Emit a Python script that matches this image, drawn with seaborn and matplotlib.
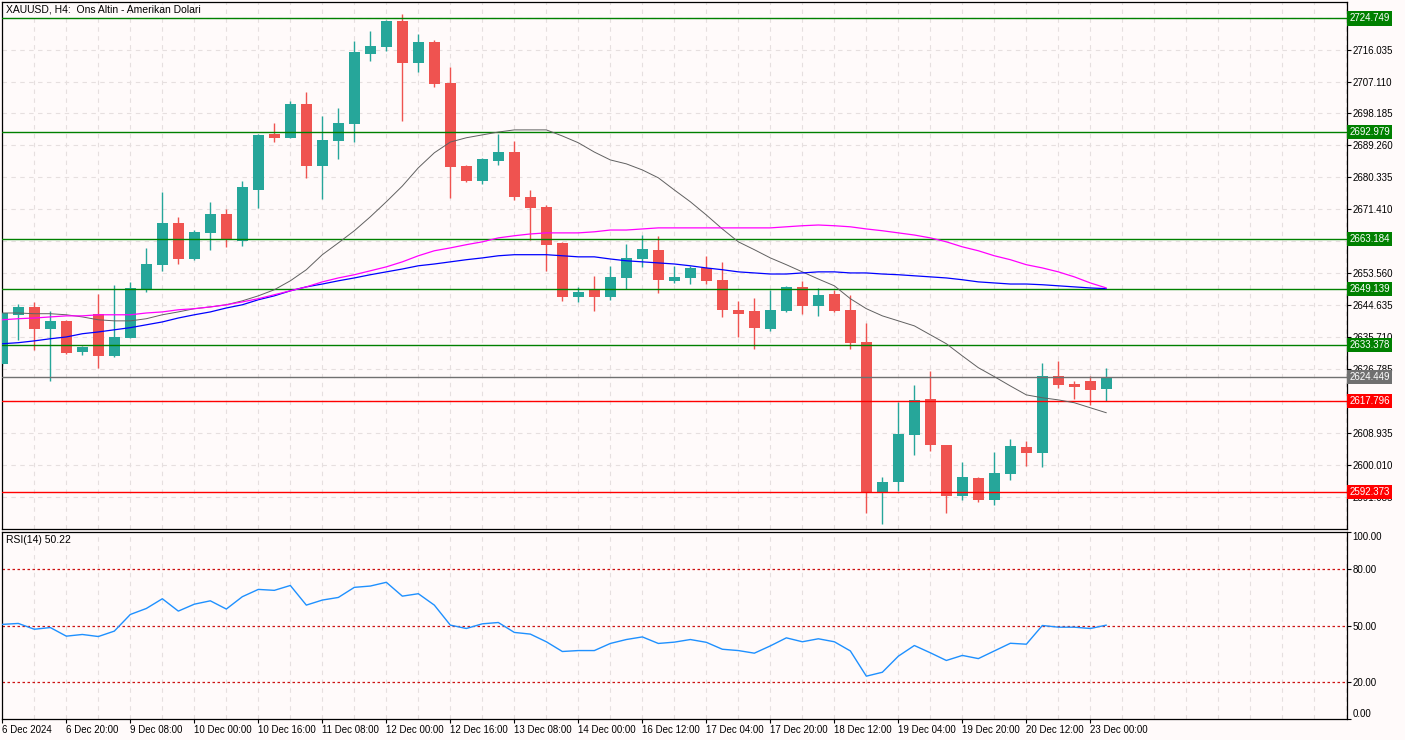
import matplotlib
matplotlib.use("Agg")
import numpy as np
import pandas as pd
import matplotlib.pyplot as plt
import matplotlib.transforms as mtransforms
import seaborn as sns

# XAUUSD H4 candles
opens = [2628.2, 2641.7, 2644.1, 2638.0, 2640.2, 2631.5, 2642.2, 2630.4, 2635.5, 2648.9,
         2655.9, 2667.6, 2657.5, 2664.8, 2670.1, 2662.6, 2676.8, 2692.5, 2691.4, 2700.9,
         2683.5, 2690.5, 2695.3, 2714.8, 2716.8, 2724.1, 2712.3, 2718.2, 2706.7, 2683.5,
         2679.3, 2684.9, 2687.4, 2674.9, 2672.1, 2662.0, 2646.9, 2648.9, 2646.9, 2652.2,
         2657.5, 2660.1, 2651.4, 2652.2, 2655.0, 2651.7, 2643.3, 2643.0, 2638.0, 2643.0,
         2649.7, 2644.4, 2647.8, 2643.3, 2634.3, 2592.4, 2595.2, 2608.3, 2618.4, 2605.6,
         2591.3, 2596.3, 2590.2, 2597.5, 2605.0, 2603.3, 2624.8, 2622.6, 2623.4, 2621.2]
closes = [2642.4, 2644.1, 2638.0, 2640.2, 2631.3, 2632.9, 2630.4, 2635.7, 2649.4, 2656.1,
          2667.6, 2657.5, 2665.1, 2670.1, 2662.8, 2677.7, 2692.2, 2691.4, 2700.9, 2683.5,
          2690.8, 2695.5, 2715.4, 2717.1, 2724.1, 2712.3, 2718.2, 2706.4, 2683.2, 2679.3,
          2685.5, 2687.4, 2674.9, 2671.8, 2661.5, 2646.9, 2648.3, 2646.9, 2652.5, 2657.8,
          2660.3, 2651.7, 2652.5, 2655.0, 2651.4, 2643.3, 2642.2, 2638.3, 2643.3, 2649.7,
          2644.4, 2647.5, 2643.0, 2634.1, 2592.4, 2595.2, 2608.6, 2618.1, 2605.6, 2591.3,
          2596.6, 2590.2, 2597.7, 2605.3, 2603.3, 2624.8, 2622.3, 2621.8, 2620.9, 2624.45]
highs = [2642.7, 2645.0, 2645.5, 2643.0, 2640.5, 2633.2, 2647.8, 2650.3, 2651.1, 2660.6,
         2676.3, 2669.3, 2665.6, 2673.5, 2671.5, 2679.3, 2692.5, 2695.5, 2701.7, 2704.2,
         2697.5, 2699.7, 2718.5, 2721.3, 2724.3, 2726.0, 2720.4, 2718.7, 2711.2, 2683.8,
         2685.8, 2692.5, 2690.5, 2676.8, 2672.6, 2662.3, 2649.7, 2652.8, 2655.6, 2661.7,
         2664.2, 2664.0, 2655.6, 2655.6, 2658.4, 2656.7, 2645.8, 2646.6, 2648.9, 2650.0,
         2651.4, 2649.4, 2648.9, 2647.5, 2639.6, 2596.6, 2617.6, 2622.3, 2626.2, 2605.6,
         2600.8, 2596.6, 2603.6, 2607.2, 2606.7, 2628.5, 2629.0, 2623.4, 2624.8, 2627.1]
lows = [2627.6, 2634.9, 2632.1, 2623.4, 2631.0, 2630.7, 2627.1, 2630.2, 2635.3, 2648.3,
        2654.2, 2656.1, 2657.3, 2660.1, 2660.9, 2661.2, 2671.8, 2690.2, 2691.2, 2680.2,
        2674.3, 2685.5, 2690.2, 2712.9, 2715.7, 2696.1, 2709.8, 2705.6, 2674.6, 2679.1,
        2678.5, 2683.8, 2674.0, 2662.8, 2654.2, 2645.8, 2645.5, 2643.0, 2646.1, 2649.2,
        2655.3, 2648.0, 2650.8, 2650.5, 2650.5, 2641.3, 2635.7, 2632.4, 2637.4, 2642.8,
        2642.2, 2641.6, 2642.7, 2632.4, 2586.5, 2583.5, 2592.7, 2602.8, 2603.9, 2586.5,
        2590.2, 2589.6, 2588.8, 2595.8, 2599.7, 2599.4, 2621.5, 2618.4, 2616.7, 2617.9]

# moving averages
ma_gray = [2642.4, 2642.4, 2642.2, 2642.2, 2641.9, 2641.3, 2640.5, 2640.2, 2640.2, 2640.8,
           2641.9, 2642.7, 2643.6, 2644.1, 2644.7, 2645.8, 2647.2, 2648.9, 2651.4, 2654.5,
           2658.7, 2662.0, 2665.4, 2669.3, 2673.5, 2677.9, 2683.0, 2687.2, 2690.2, 2691.4,
           2692.2, 2693.0, 2693.6, 2693.6, 2693.6, 2691.9, 2690.0, 2687.4, 2685.2, 2684.1,
           2682.4, 2680.2, 2676.8, 2673.5, 2669.8, 2665.9, 2662.3, 2660.1, 2657.8, 2655.9,
           2653.9, 2651.9, 2650.0, 2646.4, 2643.6, 2641.6, 2640.2, 2638.8, 2636.3, 2633.8,
           2630.4, 2627.1, 2624.6, 2622.0, 2619.5, 2618.7, 2618.1, 2617.3, 2615.9, 2614.5]
ma_blue = [2633.8, 2634.1, 2634.6, 2635.2, 2635.7, 2636.6, 2637.1, 2637.7, 2638.3, 2639.1,
           2639.9, 2641.0, 2641.9, 2642.7, 2643.8, 2644.7, 2646.1, 2647.2, 2648.6, 2649.7,
           2650.5, 2651.4, 2652.2, 2653.1, 2653.9, 2654.7, 2655.6, 2656.1, 2656.7, 2657.3,
           2657.8, 2658.4, 2658.7, 2658.7, 2658.7, 2658.4, 2658.1, 2658.1, 2657.5, 2657.0,
           2656.7, 2656.4, 2656.1, 2655.6, 2655.0, 2654.5, 2653.9, 2653.6, 2653.3, 2653.3,
           2653.6, 2653.9, 2653.9, 2653.6, 2653.6, 2653.3, 2653.1, 2652.8, 2652.5, 2652.2,
           2651.7, 2651.1, 2650.8, 2650.5, 2650.5, 2650.3, 2650.0, 2649.7, 2649.4, 2649.2]
ma_magenta = [2640.5, 2640.8, 2641.0, 2641.3, 2641.6, 2641.6, 2641.9, 2641.9, 2641.9, 2642.4,
              2642.7, 2643.3, 2643.6, 2644.1, 2644.7, 2645.5, 2646.4, 2647.5, 2648.6, 2649.7,
              2651.1, 2652.2, 2653.1, 2654.2, 2655.3, 2656.7, 2658.4, 2659.8, 2660.6, 2661.5,
              2662.3, 2663.4, 2664.0, 2664.5, 2664.8, 2664.8, 2664.8, 2665.1, 2665.6, 2665.6,
              2665.9, 2666.2, 2666.2, 2666.2, 2666.2, 2666.2, 2666.2, 2666.2, 2666.2, 2666.5,
              2666.8, 2667.0, 2666.8, 2666.5, 2665.9, 2665.4, 2664.8, 2664.2, 2663.4, 2662.3,
              2660.9, 2659.8, 2658.4, 2657.3, 2655.9, 2655.0, 2653.9, 2652.5, 2650.8, 2649.4]

rsi = [50.6, 51.1, 48.0, 48.9, 44.3, 45.2, 44.1, 47.0, 55.9, 59.1,
       64.3, 57.7, 61.4, 63.2, 58.8, 65.4, 69.3, 68.8, 71.4, 60.9,
       63.6, 65.0, 70.4, 71.1, 73.1, 65.7, 67.0, 60.9, 50.2, 48.4,
       50.9, 51.6, 46.3, 45.4, 41.3, 36.1, 36.6, 36.6, 40.4, 42.5,
       43.9, 40.4, 41.1, 42.5, 41.0, 37.3, 36.6, 35.2, 39.1, 43.4,
       41.3, 42.9, 41.3, 36.4, 22.9, 25.0, 33.6, 39.3, 35.4, 31.3,
       34.0, 32.3, 36.4, 40.5, 40.0, 50.0, 49.1, 49.1, 48.4, 50.2]
rsi_levels = [20, 50, 80]
rsi_ticks = [0, 20, 50, 80, 100]

level_prices = [2724.749, 2692.979, 2663.184, 2649.139, 2633.378, 2624.449, 2617.796, 2592.373]
level_colors = ["#008000", "#008000", "#008000", "#008000", "#008000", "#707070", "#ff0000", "#ff0000"]

# price scale: grid on every step, labels hidden where a level tag covers them
price_ticks = [2591.085, 2600.010, 2608.935, 2617.860, 2626.785, 2635.710, 2644.635, 2653.560,
               2662.485, 2671.410, 2680.335, 2689.260, 2698.185, 2707.110, 2716.035, 2724.960]
price_labels = ["2591.085", "2600.010", "2608.935", "", "2626.785", "2635.710", "2644.635", "2653.560",
                "", "2671.410", "2680.335", "2689.260", "2698.185", "2707.110", "2716.035", ""]

time_ticks = [0, 4, 8, 12, 16, 20, 24, 28, 32, 36, 40, 44, 48, 52, 56, 60, 64, 68]
time_labels = ["6 Dec 2024", "6 Dec 20:00", "9 Dec 08:00", "10 Dec 00:00", "10 Dec 16:00",
               "11 Dec 08:00", "12 Dec 00:00", "12 Dec 16:00", "13 Dec 08:00", "14 Dec 00:00",
               "16 Dec 12:00", "17 Dec 04:00", "17 Dec 20:00", "18 Dec 12:00", "19 Dec 04:00",
               "19 Dec 20:00", "20 Dec 12:00", "23 Dec 00:00"]

sns.set_theme(style="white")
plt.rcParams['font.family'] = ['Liberation Sans', 'DejaVu Sans']
plt.rcParams['font.size'] = 7

bg = "#fffafa"
grid_col = "#e6dfdf"

df = pd.DataFrame({"o": opens, "h": highs, "l": lows, "c": closes,
                   "ma20": ma_gray, "ma50": ma_blue, "ma100": ma_magenta, "rsi": rsi})
df["x"] = np.arange(len(df))
df["bull"] = df["c"] >= df["o"]
df["body_lo"] = df[["o", "c"]].min(axis=1)
df["body_h"] = (df["c"] - df["o"]).abs().clip(lower=0.3)
df["col"] = np.where(df["bull"], "#26a69a", "#ef5350")

fig = plt.figure(figsize=(14.05, 7.40), dpi=100, facecolor=bg)
ax = fig.add_axes([2 / 1405, 1 - 529 / 740, 1345 / 1405, 527 / 740], facecolor=bg)
ax2 = fig.add_axes([2 / 1405, 1 - 719 / 740, 1345 / 1405, 187 / 740], facecolor=bg)

xmin, xmax = -0.02, 84.04
grid_x = np.arange(0, 85, 2)

# main price panel
for gx in grid_x:
    ax.axvline(gx, color=grid_col, lw=0.8, ls=(0, (4, 4)), zorder=0)
for py in price_ticks:
    ax.axhline(py, color=grid_col, lw=0.8, ls=(0, (4, 4)), zorder=0)

ax.vlines(df["x"], df["l"], df["h"], colors=df["col"], lw=1.0, zorder=2)
ax.bar(df["x"], df["body_h"], bottom=df["body_lo"], width=0.69, color=df["col"],
       linewidth=0, zorder=3)

for p, c in zip(level_prices, level_colors):
    ax.axhline(p, color=c, lw=1.0, zorder=4)

sns.lineplot(data=df, x="x", y="ma20", ax=ax, color="#606060", lw=0.7, zorder=5)
sns.lineplot(data=df, x="x", y="ma50", ax=ax, color="#0000ff", lw=0.9, zorder=5)
sns.lineplot(data=df, x="x", y="ma100", ax=ax, color="#ff00ff", lw=0.9, zorder=5)

ax.set_xlim(xmin, xmax)
ax.set_ylim(2582.0, 2729.36)
ax.set_xticks([])
ax.set_xlabel("")
ax.set_ylabel("")
ax.yaxis.tick_right()
ax.set_yticks(price_ticks)
ax.set_yticklabels(price_labels)
ax.tick_params(axis="y", direction="out", length=3, width=0.8, pad=1, labelsize=7,
               colors="black", right=True, left=False)
for s in ax.spines.values():
    s.set_color("black")
    s.set_linewidth(0.9)

trans = mtransforms.blended_transform_factory(ax.transAxes, ax.transData)
for p, c in zip(level_prices, level_colors):
    ax.text(1.0016, p, f"{p:.3f}", transform=trans, ha="left", va="center",
            color="white", fontsize=7,
            bbox=dict(boxstyle="square,pad=0.22", fc=c, ec="none"), zorder=10, clip_on=False)

ax.text(0.003, 1 - 7 / 527, "XAUUSD, H4:  Ons Altin - Amerikan Dolari", transform=ax.transAxes,
        ha="left", va="center", fontsize=7.5, color="black")

# RSI panel
for gx in grid_x:
    ax2.axvline(gx, color=grid_col, lw=0.8, ls=(0, (4, 4)), zorder=0)
for lv in rsi_levels:
    ax2.axhline(lv, color="#cc1111", lw=0.9, ls=(0, (2, 2)), zorder=1)
sns.lineplot(data=df, x="x", y="rsi", ax=ax2, color="#1e90ff", lw=1.0, zorder=3)

ax2.set_xlim(xmin, xmax)
ax2.set_ylim(0, 100)
ax2.set_xlabel("")
ax2.set_ylabel("")
ax2.yaxis.tick_right()
ax2.set_yticks(rsi_ticks)
ax2.set_yticklabels([f"{v:.2f}" for v in rsi_ticks])
ax2.tick_params(axis="y", direction="out", length=3, width=0.8, pad=1, labelsize=7,
                colors="black", right=True, left=False)
ylabels = ax2.get_yticklabels()
ylabels[0].set_va("bottom")
ylabels[-1].set_va("top")
ax2.set_xticks(time_ticks)
ax2.set_xticklabels(time_labels, ha="left")
ax2.tick_params(axis="x", direction="out", length=3, width=0.8, pad=1, labelsize=7,
                colors="black", bottom=True)
for s in ax2.spines.values():
    s.set_color("black")
    s.set_linewidth(0.9)

ax2.text(0.003, 1 - 8 / 187, "RSI(14) 50.22", transform=ax2.transAxes, ha="left",
         va="center", fontsize=7.5, color="black")

fig.savefig("out.png", dpi=100, facecolor=bg)
